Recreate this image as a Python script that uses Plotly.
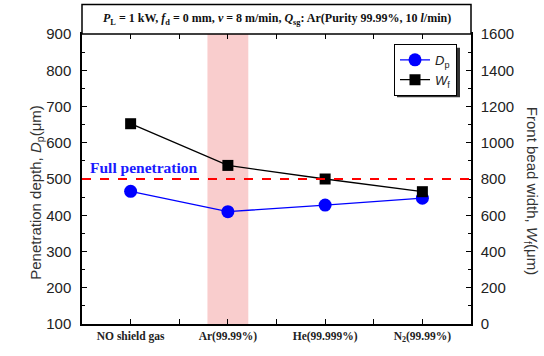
import plotly.graph_objects as go

categories = ["<b>NO shield gas</b>", "<b>Ar(99.99%)</b>", "<b>He(99.999%)</b>", "<b>N<sub>2</sub>(99.99%)</b>"]
x_pos = [0, 1, 2, 3]
dp_values = [466, 410, 428, 447]          # Penetration depth (left axis)
wf_values = [1105, 875, 800, 730]         # Front bead width (right axis)
full_pen = 500
band = [0.79, 1.21]

fig = go.Figure()

fig.add_trace(go.Scatter(
    x=x_pos, y=dp_values, mode="lines+markers", name="<i>D</i><sub>p</sub>",
    line=dict(color="#0000ff", width=1.3),
    marker=dict(symbol="circle", size=13, color="#0000ff"),
))
fig.add_trace(go.Scatter(
    x=x_pos, y=wf_values, mode="lines+markers", name="<i>W</i><sub>f</sub>",
    line=dict(color="black", width=1.3),
    marker=dict(symbol="square", size=11, color="black"),
    yaxis="y2",
))

# Full penetration line
fig.add_shape(type="line", xref="paper", x0=0, x1=1, yref="y", y0=full_pen, y1=full_pen,
              line=dict(color="#ff0000", width=2.2, dash="dash"))
# Pink band
fig.add_shape(type="rect", xref="x", x0=band[0], x1=band[1], yref="paper", y0=0, y1=1,
              fillcolor="#f9cdcd", line=dict(width=0), layer="below")
# Title box
fig.add_shape(type="rect", xref="paper", x0=0, x1=1, yref="paper", y0=1, y1=1 + 30 / 294,
              line=dict(color="black", width=1.5), fillcolor="white")
# Legend shadow
fig.add_shape(type="rect", xref="paper", yref="paper",
              x0=(397 - 82) / 389, x1=(460 - 82) / 389,
              y0=(328 - 98) / 294, y1=(328 - 48) / 294,
              fillcolor="#333333", line=dict(width=0), layer="above")

fig.add_annotation(
    xref="paper", yref="paper", x=0.5, y=1 + 15 / 294, showarrow=False,
    xanchor="center", yanchor="middle",
    text="<b><i>P</i><sub>L</sub> = 1 kW, <i>f</i><sub>d</sub> = 0 mm, <i>v</i> = 8 m/min, "
         "<i>Q</i><sub>sg</sub>: Ar(Purity 99.99%, 10 <i>l</i>/min)</b>",
    font=dict(family="Liberation Serif", size=12, color="#111"),
)
fig.add_annotation(
    xref="paper", yref="y", x=(88 - 82) / 389, y=531, xanchor="left", yanchor="middle",
    showarrow=False, text="<b>Full penetration</b>",
    font=dict(family="Liberation Serif", size=15.5, color="#1a1aff"),
)
fig.add_annotation(
    xref="paper", yref="paper", x=(37 - 82) / 389, y=(328 - 195) / 294, textangle=-90,
    xanchor="center", yanchor="middle",
    showarrow=False, text="Penetration depth, <i>D</i><sub>p</sub>(μm)",
    font=dict(family="Liberation Sans", size=15, color="#333"),
)
fig.add_annotation(
    xref="paper", yref="paper", x=(531 - 82) / 389, y=(328 - 193) / 294, textangle=90,
    xanchor="center", yanchor="middle",
    showarrow=False, text="Front bead width, <i>W</i><sub>f</sub>(μm)",
    font=dict(family="Liberation Sans", size=15, color="#333"),
)

fig.update_layout(
    width=544, height=356,
    margin=dict(l=82, r=73, t=34, b=28),
    paper_bgcolor="white", plot_bgcolor="white",
    showlegend=True,
    legend=dict(x=(457 - 82) / 389, y=(328 - 44) / 294, xanchor="right", yanchor="top",
                bgcolor="white", bordercolor="black", borderwidth=1,
                font=dict(family="Liberation Sans", size=13, color="#222"),
                itemwidth=30, tracegroupgap=0),
    xaxis=dict(
        range=[-0.5, 3.5], tickmode="array", tickvals=x_pos, ticktext=categories,
        showline=True, linecolor="black", linewidth=1.5, mirror="allticks",
        ticks="inside", ticklen=5, tickcolor="black", showgrid=False, zeroline=False,
        tickfont=dict(family="Liberation Serif", size=11.5, color="#222"),
        minor=dict(tickvals=[0.5, 1.5, 2.5], ticks="inside", ticklen=3, tickcolor="black"),
    ),
    yaxis=dict(
        range=[100, 900], dtick=100, showline=True, linecolor="black", linewidth=1.5,
        ticks="inside", ticklen=5, tickcolor="black", showgrid=False, zeroline=False,
        tickfont=dict(family="Liberation Sans", size=15, color="#222"),
        minor=dict(dtick=50, ticks="inside", ticklen=3, tickcolor="black"),
        ticklabelstandoff=6,
    ),
    yaxis2=dict(
        range=[0, 1600], dtick=200, overlaying="y", side="right", showline=True,
        linecolor="black", linewidth=1.5, ticks="inside", ticklen=5, tickcolor="black",
        showgrid=False, zeroline=False,
        tickfont=dict(family="Liberation Sans", size=15, color="#222"),
        minor=dict(dtick=100, ticks="inside", ticklen=3, tickcolor="black"),
        ticklabelstandoff=5,
    ),
)

fig.write_html("out.html")
